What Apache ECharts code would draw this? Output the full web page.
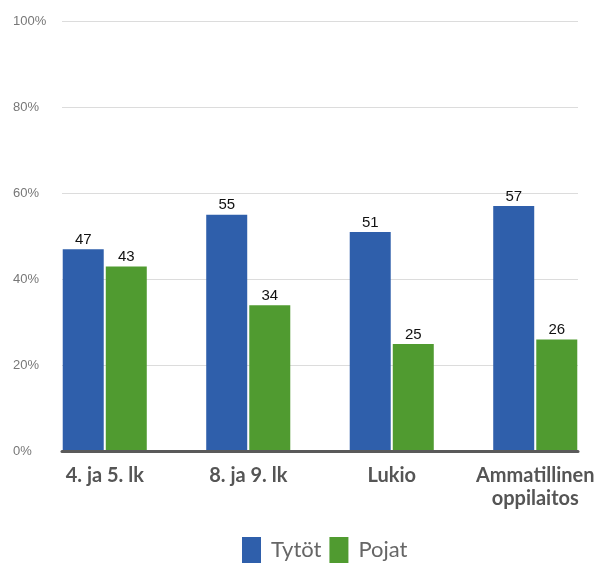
<!DOCTYPE html>
<html>
<head>
    <meta charset="utf8">
    <script src="https://cdn.jsdelivr.net/npm/echarts@6/dist/echarts.min.js"></script>
    <style>
        html, body { margin: 0; padding: 0; background: #fff; overflow: hidden; }
        #main { width: 620px; height: 563px; }
    </style>
</head>
<body>
    <div id="main"></div>
    <script type="text/javascript">
        var categories = ['4. ja 5. lk', '8. ja 9. lk', 'Lukio', 'Ammatillinen\noppilaitos'];
        var tytot = [47, 55, 51, 57];
        var pojat = [43, 34, 25, 26];
        var seriesNames = ['Tytöt', 'Pojat'];

        var chart = echarts.init(document.getElementById('main'));

        var valueLabel = {
            show: true,
            position: 'top',
            distance: 2,
            color: '#111',
            fontSize: 15,
            fontFamily: 'Liberation Sans, Arial, sans-serif'
        };

        var option = {
            animation: false,
            grid: [
                // gridlines + axis line
                { left: 62, right: 42, top: 21, bottom: 111.5 },
                // bars + category labels (wider than the plot, bars touch its edges)
                { left: 33, width: 574, top: 21, bottom: 111.5 }
            ],
            legend: {
                data: seriesNames,
                top: 537,
                left: 242,
                icon: 'rect',
                itemWidth: 19,
                itemHeight: 26,
                itemGap: 8,
                padding: 0,
                textStyle: {
                    fontSize: 22,
                    color: '#666',
                    fontFamily: 'Lato, sans-serif',
                    padding: [0, 0, 0, 5]
                }
            },
            xAxis: [
                {
                    gridIndex: 0,
                    type: 'category',
                    data: categories,
                    z: 3,
                    axisLine: { lineStyle: { color: '#5a5a5a', width: 3 } },
                    axisTick: { show: false },
                    axisLabel: { show: false }
                },
                {
                    gridIndex: 1,
                    type: 'category',
                    data: categories,
                    axisLine: { show: false },
                    axisTick: { show: false },
                    axisLabel: {
                        interval: 0,
                        margin: 13,
                        fontSize: 20,
                        fontWeight: 'bold',
                        color: '#555',
                        lineHeight: 23,
                        fontFamily: 'Lato, sans-serif'
                    }
                }
            ],
            yAxis: [
                {
                    gridIndex: 0,
                    type: 'value',
                    min: 0,
                    max: 100,
                    interval: 20,
                    axisLine: { show: false },
                    axisTick: { show: false },
                    axisLabel: {
                        formatter: '{value}%',
                        align: 'left',
                        margin: 49,
                        color: '#777',
                        fontSize: 13,
                        fontFamily: 'Liberation Sans, Arial, sans-serif'
                    },
                    splitLine: { lineStyle: { color: '#dcdcdc', width: 1 } }
                },
                {
                    gridIndex: 1,
                    type: 'value',
                    min: 0,
                    max: 100,
                    show: false
                }
            ],
            series: [
                {
                    name: seriesNames[0],
                    type: 'bar',
                    xAxisIndex: 1,
                    yAxisIndex: 1,
                    data: tytot,
                    barWidth: 41,
                    barGap: '5%',
                    itemStyle: { color: '#2f5fab' },
                    label: valueLabel
                },
                {
                    name: seriesNames[1],
                    type: 'bar',
                    xAxisIndex: 1,
                    yAxisIndex: 1,
                    data: pojat,
                    barWidth: 41,
                    barGap: '5%',
                    itemStyle: { color: '#509b30' },
                    label: valueLabel
                }
            ]
        };

        chart.setOption(option);
    </script>
</body>
</html>
